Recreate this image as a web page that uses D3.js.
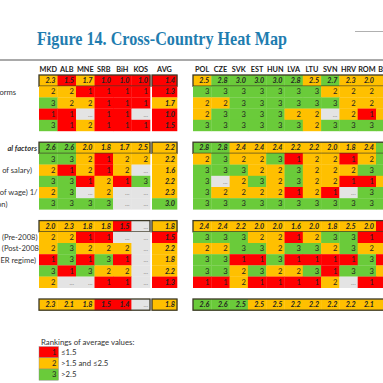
<!DOCTYPE html>
<html><head><meta charset="utf-8">
<script src="https://cdn.jsdelivr.net/npm/d3@7"></script>
<style>body{margin:0;background:#fff;} svg{display:block;}</style>
</head><body>
<svg id="c" width="383" height="383"></svg>
<script>
const titleText = "Figure 14. Cross-Country Heat Map";
const leftCountries = ["MKD","ALB","MNE","SRB","BiH","KOS"];
const avgLabel = "AVG";
const rightCountries = ["POL","CZE","SVK","EST","HUN","LVA","LTU","SVN","HRV","ROM","BUL"];

// Section 1 (first row = section average)
const s1Left = [
  [2.3,1.5,1.7,1.0,1.0,1.0],
  [2,2,1,1,1,1],
  [3,2,2,1,1,1],
  [1,1,null,1,1,null],
  [3,1,2,1,1,1]
];
const s1Avg = [1.4,1.3,1.7,1.0,1.5];
const s1Right = [
  [2.5,2.8,3.0,3.0,3.0,2.8,2.5,2.7,2.3,2.0,2.3],
  [3,3,3,3,3,3,3,2,2,2,2],
  [2,2,3,3,3,3,3,3,2,2,2],
  [2,3,3,3,3,2,2,null,2,1,2],
  [3,3,3,3,3,3,2,3,3,3,3]
];
const s1Labels = ["","orms","","",""];

// Section 2
const s2Left = [
  [2.6,2.6,2.0,1.8,1.7,2.5],
  [3,3,2,1,2,2],
  [2,1,2,1,2,null],
  [3,3,1,2,1,3],
  [2,3,null,2,null,null],
  [3,3,3,3,null,null]
];
const s2Avg = [2.2,2.2,1.6,2.2,2.3,3.0];
const s2Right = [
  [2.8,2.8,2.4,2.4,2.4,2.2,2.2,2.0,1.8,2.4,2.8],
  [2,3,2,2,3,1,2,2,1,2,3],
  [3,3,3,2,2,3,2,2,2,3,3],
  [3,null,2,3,2,3,2,2,1,1,2],
  [3,2,2,2,2,1,2,1,null,3,3],
  [3,3,3,3,3,3,3,3,3,3,3]
];
const s2Labels = ["al factors","","of salary)","","of wage) 1/","on)"];

// Section 3
const s3Left = [
  [2.0,2.3,1.8,1.8,1.5,null],
  [2,2,1,1,null,null],
  [2,3,2,2,2,null],
  [1,3,1,3,1,null],
  [3,1,3,2,2,null],
  [2,null,null,1,1,null]
];
const s3Avg = [1.8,1.5,2.2,1.8,2.2,1.3];
const s3Right = [
  [2.4,2.4,2.2,2.0,2.0,1.6,2.0,1.8,2.5,2.0,1.4],
  [3,3,3,2,2,1,2,3,3,1,1],
  [2,2,3,3,2,3,3,2,3,2,2],
  [3,3,1,1,3,1,1,1,1,3,1],
  [3,3,2,3,2,2,3,1,3,3,2],
  [1,1,2,1,1,1,1,2,null,1,1]
];
const s3Labels = ["","n (Pre-2008)","n (Post-2008","ER regime)","",""];

// Overall
const totLeft = [2.3,2.1,1.8,1.5,1.4,null];
const totAvg = [1.8];
const totRight = [2.6,2.6,2.53,2.5,2.5,2.2,2.2,2.2,2.2,2.1,2.1];

// Legend
const legendTitle = "Rankings of average values:";
const legendRanks = [1,2,3];
const legendLabels = ["\u22641.5",">1.5 and \u22642.5",">2.5"];

const colRed = "#ff0000", colOrange = "#ffc000", colGreen = "#6acb3a", colGray = "#e4e4e4";
const fill = v => v == null ? colGray : (v <= 1.5 ? colRed : (v <= 2.5 ? colOrange : colGreen));

const W = 383;
const svg = d3.select("#c");
const FONT = "Lato, 'Open Sans', sans-serif";

const xL = d3.scaleBand().domain(leftCountries).range([39,150]);
const xA = d3.scaleBand().domain([avgLabel]).range([152,177]);
const xR = d3.scaleBand().domain(rightCountries).range([193,394.3]);
const rowH = 11.2;
const yK = d3.scaleLinear().domain([0,1]).range([63.8,63.8+rowH]);

// title
svg.append("text").attr("x",37).attr("y",45)
  .attr("font-family","'Liberation Serif', 'Times New Roman', serif")
  .attr("font-weight","bold").attr("font-size",19).attr("fill","#1f7db0")
  .attr("textLength",250).attr("lengthAdjust","spacingAndGlyphs")
  .text(titleText);
svg.append("line").attr("x1",355).attr("x2",383).attr("y1",31.5).attr("y2",31.5)
  .attr("stroke","#b0b0b0").attr("stroke-width",1);
svg.append("line").attr("x1",0).attr("x2",383).attr("y1",60).attr("y2",60)
  .attr("stroke","#555").attr("stroke-width",1);

// headers
const hdr = svg.append("g").attr("font-family",FONT).attr("font-weight","bold")
  .attr("font-size",7.3).attr("fill","#222").attr("text-anchor","middle");
[[xL,leftCountries],[xA,[avgLabel]],[xR,rightCountries]].forEach(([sc,dom])=>{
  hdr.selectAll(null).data(dom).enter().append("text")
    .attr("x",d=>sc(d)+sc.bandwidth()/2).attr("y",yK(0)+rowH/2+2.6).text(d=>d);
});

function drawBlock(g, scale, domain, rows, startK, isAvgCol) {
  rows.forEach((row, i) => {
    const k = startK + i;
    const summary = i === 0;
    const cells = g.append("g");
    cells.selectAll("rect").data(row).enter().append("rect")
      .attr("x",(d,j)=>scale(domain[j])).attr("y",yK(k))
      .attr("width",scale.bandwidth()+0.3).attr("height",rowH+0.2)
      .attr("fill",d=>fill(d));
    const bold = summary || isAvgCol;
    const vis = row.map((d,j)=>({d, x: scale(domain[j])+scale.bandwidth()-2})).filter(o=>o.x <= W);
    cells.selectAll("text").data(vis).enter().append("text")
      .attr("x",o=>o.x)
      .attr("y",yK(k)+rowH/2+2.6)
      .attr("text-anchor","end")
      .attr("font-family",FONT)
      .attr("font-size",o=> o.d==null ? 6.5 : (bold ? 7.2 : 7.6))
      .attr("font-weight",o=> o.d!=null && bold ? "bold" : "normal")
      .attr("font-style",o=> o.d!=null && bold ? "italic" : "normal")
      .attr("fill",o=> o.d==null ? "#777" : "#222")
      .text(o=> o.d==null ? "..." : (bold ? d3.format(".1f")(o.d) : d3.format("d")(o.d)));
    if (summary) {
      const x0 = scale(domain[0]);
      const x1 = scale(domain[domain.length-1]) + scale.bandwidth();
      g.append("rect").attr("x",x0).attr("y",yK(k)).attr("width",x1-x0).attr("height",rowH)
        .attr("fill","none").attr("stroke","#3b3826").attr("stroke-width",1.3);
    }
  });
}

const labelRight = {"orms":16,"al factors":37,"of salary)":32,"of wage) 1/":37.5,"on)":7.5,
  "n (Pre-2008)":37.5,"n (Post-2008":39,"ER regime)":36};

function drawSection(left, avg, right, labels, startK) {
  const g = svg.append("g");
  drawBlock(g, xL, leftCountries, left, startK, false);
  drawBlock(g, xA, [avgLabel], avg.map(v=>[v]), startK, true);
  drawBlock(g, xR, rightCountries, right, startK, false);
  if (labels) {
    const lab = labels.map((t,i)=>({t,i})).filter(d=>d.t);
    g.selectAll("text.lab").data(lab).enter().append("text").attr("class","lab")
      .attr("x",d=>labelRight[d.t]).attr("y",d=>yK(startK+d.i)+rowH/2+2.8)
      .attr("text-anchor","end").attr("font-family",FONT)
      .attr("font-size",7.6).attr("fill","#333")
      .attr("font-weight",d=> d.i===0 ? "bold" : "normal")
      .attr("font-style",d=> d.i===0 ? "italic" : "normal")
      .text(d=>d.t);
  }
}

drawSection(s1Left, s1Avg, s1Right, s1Labels, 1);
drawSection(s2Left, s2Avg, s2Right, s2Labels, 7);
drawSection(s3Left, s3Avg, s3Right, s3Labels, 14);
drawSection([totLeft], totAvg, [totRight], null, 21);

// legend
const lg = svg.append("g").attr("font-family",FONT);
lg.append("text").attr("x",41).attr("y",344.5).attr("font-size",7.8).attr("fill","#333").text(legendTitle);
const ly = d3.scaleBand().domain(legendRanks).range([346.6,380.2]);
lg.selectAll("rect").data(legendRanks).enter().append("rect")
  .attr("x",39).attr("y",d=>ly(d)).attr("width",19.5).attr("height",ly.bandwidth())
  .attr("fill",d=>fill(d)).attr("stroke","#888").attr("stroke-width",0.4);
lg.selectAll("text.n").data(legendRanks).enter().append("text").attr("class","n")
  .attr("x",56.5).attr("y",d=>ly(d)+ly.bandwidth()/2+2.7).attr("text-anchor","end")
  .attr("font-size",7.6).attr("fill","#222").text(d=>d);
lg.selectAll("text.l").data(legendRanks).enter().append("text").attr("class","l")
  .attr("x",61).attr("y",(d,i)=>ly(d)+ly.bandwidth()/2+2.8)
  .attr("font-size",7.8).attr("fill","#333").text((d,i)=>legendLabels[i]);
</script>
</body></html>
